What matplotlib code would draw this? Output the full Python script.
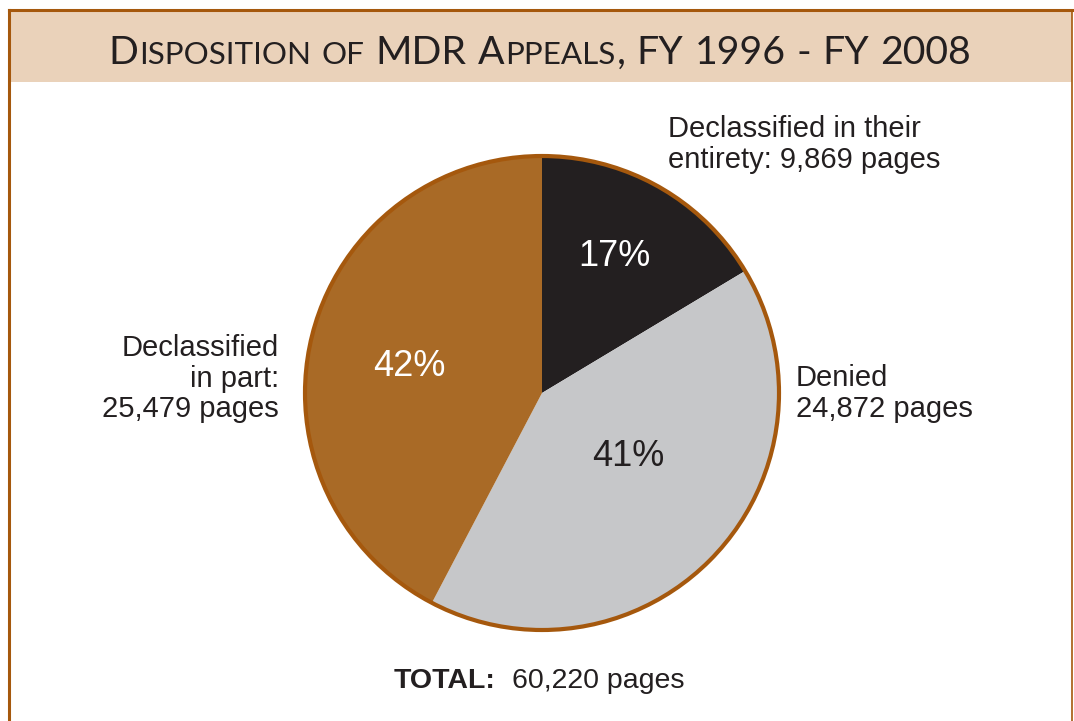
import matplotlib.pyplot as plt
from matplotlib.lines import Line2D
from matplotlib.patches import Rectangle, Circle

W, H = 1074, 721

# data
categories = ['Declassified in their entirety', 'Denied', 'Declassified in part']
pages = [9869, 24872, 25479]
pct_labels = ['17%', '41%', '42%']
total_pages = 60220

colors = ['#231f20', '#c6c7c9', '#a96a26']
pct_colors = ['white', '#231f20', 'white']
frame_col = '#a5580d'
band_col = '#ead2ba'
ink = '#231f20'

# title in small caps: (text, big?) per word
title_words = [[('D', True), ('ISPOSITION', False)],
               [('OF', False)],
               [('MDR', True)],
               [('A', True), ('PPEALS', False), (',', True)],
               [('FY', True)], [('1996', True)], [('-', True)],
               [('FY', True)], [('2008', True)]]
title_font = 'Lato'

label_font = ['Liberation Sans', 'DejaVu Sans']


def draw_title(ax, renderer, x0, baseline, big, small):
    x = x0
    texts = []
    for i, word in enumerate(title_words):
        if i > 0:
            x += 0.25 * big * 100 / 72
        for s, is_big in word:
            t = ax.text(x, baseline, s, fontsize=big if is_big else small,
                        family=title_font, color=ink, ha='left', va='baseline')
            x += t.get_window_extent(renderer).width + 0.04 * big
            texts.append(t)
    return texts, x - x0


def main():
    fig = plt.figure(figsize=(W / 100, H / 100), dpi=100)
    ax = fig.add_axes([0, 0, 1, 1])

    # pie in pixel coords; y axis is flipped so counterclock here reads clockwise
    cx, cy, r = 542, 393, 237
    ax.pie(pages, colors=colors, startangle=-90, counterclock=True,
           center=(cx, cy), radius=r, wedgeprops=dict(linewidth=0))
    ax.add_patch(Circle((cx, cy), r, fill=False, edgecolor=frame_col, linewidth=3.0))
    ax.set_xlim(0, W)
    ax.set_ylim(H, 0)
    ax.set_aspect('auto')
    ax.axis('off')

    # frame + title band
    ax.add_patch(Rectangle((9, 10), 1063, 72, facecolor=band_col, edgecolor='none', zorder=0))
    ax.add_line(Line2D([9, 9], [10, H + 5], color=frame_col, linewidth=2.2))
    ax.add_line(Line2D([9, 1072], [10, 10], color=frame_col, linewidth=2.2))
    ax.add_line(Line2D([1072, 1072], [10, H + 5], color=frame_col, linewidth=1.2))

    renderer = fig.canvas.get_renderer()
    big, small = 30, 24
    texts, width = draw_title(ax, renderer, 108, 64, big, small)
    scale = 864 / width
    for t in texts:
        t.remove()
    draw_title(ax, renderer, 108, 64, big * scale, small * scale)

    # percentages
    pct_pos = [(614, 266), (628, 466), (409, 376)]
    for (px, py), lab, c in zip(pct_pos, pct_labels, pct_colors):
        ax.text(px, py, lab, fontsize=26, color=c, family=label_font,
                ha='center', va='baseline')

    # category labels
    lines = [[('Declassified in their', 668, 137), (f'entirety: {pages[0]:,} pages', 668, 168)],
             [('Denied', 796, 386), (f'{pages[1]:,} pages', 796, 417)],
             [('Declassified', 279, 356), ('in part:', 279, 387), (f'{pages[2]:,} pages', 279, 417)]]
    aligns = ['left', 'left', 'right']
    for group, ha in zip(lines, aligns):
        for s, lx, ly in group:
            ax.text(lx, ly, s, fontsize=21, color=ink, family=label_font,
                    ha=ha, va='baseline')

    # total
    ax.text(394, 688, 'TOTAL:', fontsize=20.5, fontweight='bold', color=ink,
            family=label_font, ha='left', va='baseline')
    ax.text(512, 688, f'{total_pages:,} pages', fontsize=20.5, color=ink,
            family=label_font, ha='left', va='baseline')

    fig.savefig('out.png', dpi=100)


if __name__ == '__main__':
    main()
